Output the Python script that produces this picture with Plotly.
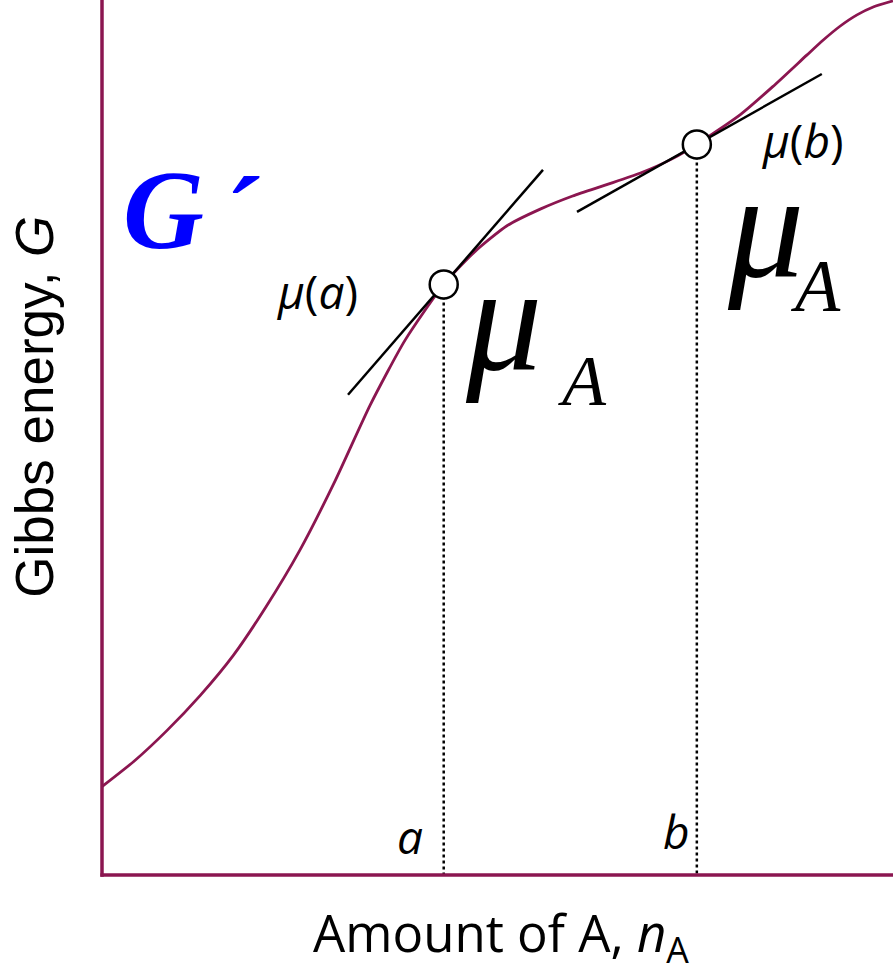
import plotly.graph_objects as go

# Gibbs energy G as a function of the amount of A (arbitrary units, 0-100 on both axes)
n_A = [0, 4.05, 8.2, 12.4, 16.6, 20.7, 25.0, 29.5, 33.9, 38.3, 43.2, 47.2, 51.2,
       55.4, 59.5, 63.8, 68.0, 72.2, 75.2, 80.7, 84.8, 89.1, 91.15, 93.3, 95.45, 97.5, 100]
G = [10.1, 13.0, 16.5, 20.5, 25.1, 30.6, 37.1, 45.1, 53.7, 61.1, 67.5, 71.3, 74.2,
     76.1, 77.6, 78.9, 80.2, 81.9, 83.5, 86.9, 90.1, 93.7, 95.4, 97.0, 98.3, 99.2, 99.9]

# the two compositions a and b, with G there and the slope (chemical potential)
point_names = ["a", "b"]
point_n = [43.2, 75.2]
point_G = [67.5, 83.5]
point_slope = [1.043, 0.509]
tangent_span = [(-12.1, 12.55), (-15.15, 15.8)]

MAROON = "#8b1650"
fig = go.Figure()

# G(n_A) curve
fig.add_trace(go.Scatter(x=n_A, y=G, mode="lines",
                         line=dict(color=MAROON, width=2.8, shape="spline", smoothing=0.6),
                         hoverinfo="skip", showlegend=False))

for name, xn, yg, s, (d0, d1) in zip(point_names, point_n, point_G, point_slope, tangent_span):
    # dotted drop line to the n_A axis
    fig.add_trace(go.Scatter(x=[xn, xn], y=[yg, 0], mode="lines",
                             line=dict(color="black", width=2.5, dash="dot"), showlegend=False, hoverinfo="skip"))
    # tangent line with slope mu
    fig.add_trace(go.Scatter(x=[xn + d0, xn + d1], y=[yg + s * d0, yg + s * d1], mode="lines",
                             line=dict(color="black", width=2.5), showlegend=False, hoverinfo="skip"))
    # open circle at the point of tangency
    fig.add_trace(go.Scatter(x=[xn], y=[yg], mode="markers",
                             marker=dict(size=28, color="white", line=dict(color="black", width=2.5)),
                             showlegend=False, hoverinfo="skip"))

SANS = "Open Sans"
SERIF = "Liberation Serif"
ann = []
# composition labels on the axis
ann.append(dict(x=point_n[0] - 4.3, y=4.5, text="<i>a</i>", font=dict(family=SANS, size=46, color="black")))
ann.append(dict(x=point_n[1] - 2.6, y=5.0, text="<i>b</i>", font=dict(family=SANS, size=46, color="black")))
# mu labels beside the tangents
ann.append(dict(x=27.3, y=66.8, text="<i>μ</i>(<i>a</i>)", font=dict(family=SANS, size=46, color="black")))
ann.append(dict(x=88.6, y=84.0, text="<i>μ</i>(<i>b</i>)", font=dict(family=SANS, size=46, color="black")))
# large mu_A symbols
ann.append(dict(x=50.8, y=63.6, text="<i>μ</i>", font=dict(family=SERIF, size=152, color="black")))
ann.append(dict(x=60.7, y=56.5, text="<i>A</i>", font=dict(family=SERIF, size=72, color="black")))
ann.append(dict(x=83.9, y=74.2, text="<i>μ</i>", font=dict(family=SERIF, size=152, color="black")))
ann.append(dict(x=90.2, y=67.3, text="<i>A</i>", font=dict(family=SERIF, size=74, color="black")))
# G prime
ann.append(dict(x=7.8, y=76.0, text="<b><i>G</i></b>", font=dict(family=SERIF, size=112, color="#0000ff")))
ann.append(dict(x=17.4, y=75.3, text="<b><i>´</i></b>", font=dict(family=SERIF, size=112, color="#0000ff")))

for a in ann:
    a.update(xref="x", yref="y", showarrow=False, xanchor="center", yanchor="middle")

# axis titles
ann.append(dict(xref="paper", yref="paper", x=0.505, y=-0.069, showarrow=False, xanchor="center", yanchor="middle",
                text="Amount of A, <i>n</i><sub>A</sub>", font=dict(family=SANS, size=51, color="black")))
ann.append(dict(xref="paper", yref="paper", x=-0.085, y=0.535, showarrow=False, xanchor="center", yanchor="middle",
                textangle=-90, text="Gibbs energy, <i>G</i>", font=dict(family="Liberation Sans", size=53, color="black")))

fig.update_layout(
    width=893, height=972,
    margin=dict(l=102, r=0, t=0, b=97),
    paper_bgcolor="white", plot_bgcolor="white",
    annotations=ann,
    shapes=[
        dict(type="line", xref="paper", yref="paper", x0=0, x1=0, y0=-0.002, y1=1.0,
             line=dict(color=MAROON, width=3.5)),
        dict(type="line", xref="paper", yref="paper", x0=-0.002, x1=1, y0=0, y1=0,
             line=dict(color=MAROON, width=3.5)),
    ],
)
fig.update_xaxes(range=[0, 100], showgrid=False, zeroline=False, showticklabels=False, ticks="", showline=False)
fig.update_yaxes(range=[0, 100], showgrid=False, zeroline=False, showticklabels=False, ticks="", showline=False)

fig.write_html("out.html")
